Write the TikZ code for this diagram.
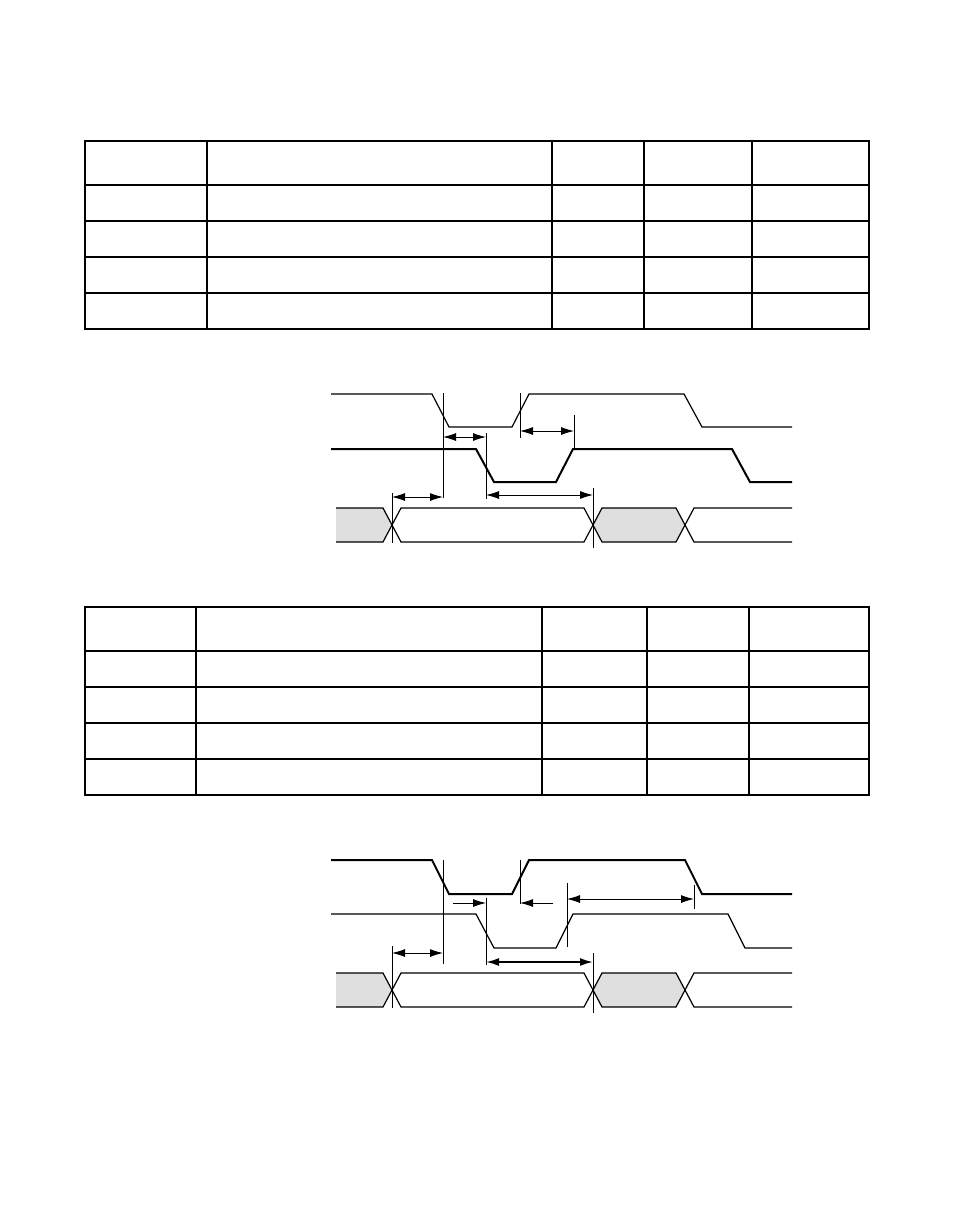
\documentclass[tikz,border=0pt]{standalone}
\usetikzlibrary{arrows.meta}
\tikzset{
  frame/.style={line width=2.3pt},
  rowline/.style={line width=1.3pt},
  sig/.style={line width=1.2pt, line join=miter},
  sigbold/.style={line width=2pt, line join=miter},
  bus/.style={line width=1.2pt},
  busfill/.style={fill=gray!25},
  vmark/.style={line width=0.8pt},
  dim/.style={line width=0.9pt, {Latex[length=13pt,width=8pt]}-{Latex[length=13pt,width=8pt]}},
  dimbold/.style={dim, line width=1.8pt},
  dimr/.style={line width=0.9pt, -{Latex[length=13pt,width=8pt]}}
}
\newcommand{\vmarker}[4]{% name, x, y top, y bottom
  \coordinate (#1) at (#2,#3);
  \draw[vmark] (#1) -- (#2,#4);}
\begin{document}
\begin{tikzpicture}[x=1pt, y=-1pt]
  \useasboundingbox (0,0) rectangle (954,1227);

  % table 1
  \draw[frame] (85,141) rectangle (869,329);
  \draw[frame] (85,185) -- (869,185);
  \foreach \y in {221,257,293} \draw[rowline] (85,\y) -- (869,\y);
  \foreach \x in {207,552,644,752} \draw[rowline] (\x,141) -- (\x,329);

  % table 2
  \draw[frame] (85,607) rectangle (869,795);
  \draw[frame] (85,651) -- (869,651);
  \foreach \y in {687,723,759} \draw[rowline] (85,\y) -- (869,\y);
  \foreach \x in {196,542,647,749} \draw[rowline] (\x,607) -- (\x,795);

  % timing diagram 1
  \begin{scope}
    \draw[sig] (331,394) -- (432,394) -- (449,427) -- (512,427) -- (529,394)
      -- (684,394) -- (702,427) -- (792,427);
    \draw[sigbold] (331,449) -- (476,449) -- (494,482) -- (556,482) -- (573,449)
      -- (732,449) -- (750,482) -- (792,482);
    % bus
    \fill[busfill] (336,508) -- (383,508) -- (392,525) -- (383,542) -- (336,542) -- cycle;
    \fill[busfill] (593,525) -- (602,508) -- (676,508) -- (685,525) -- (676,542) -- (602,542) -- cycle;
    \draw[bus] (336,508) -- (383,508) -- (401,542) -- (584,542) -- (602,508)
      -- (676,508) -- (694,542) -- (792,542);
    \draw[bus] (336,542) -- (383,542) -- (401,508) -- (584,508) -- (602,542)
      -- (676,542) -- (694,508) -- (792,508);
    \vmarker{a1}{443}{393}{498}
    \vmarker{a2}{520}{393}{438}
    \vmarker{a3}{486}{433}{499}
    \vmarker{a4}{574}{415}{449}
    \vmarker{a5}{392}{493}{543}
    \vmarker{a6}{593}{488}{548}
    \draw[dim] (a1 |- 0,437) -- (a3 |- 0,437);
    \draw[dim] (a2 |- 0,431) -- (a4 |- 0,431);
    \draw[dim] (a5 |- 0,497) -- (a1 |- 0,497);
    \draw[dim] (a3 |- 0,495) -- (a6 |- 0,495);
  \end{scope}

  % timing diagram 2
  \begin{scope}[shift={(0,466)}]
    \draw[sigbold] (331,394) -- (432,394) -- (449,428) -- (512,428) -- (529,394)
      -- (685,394) -- (702,428) -- (792,428);
    \draw[sig] (331,448) -- (476,448) -- (494,482) -- (556,482) -- (573,448)
      -- (728,448) -- (745,482) -- (792,482);
    % bus
    \fill[busfill] (336,507) -- (383,507) -- (392,524) -- (383,541) -- (336,541) -- cycle;
    \fill[busfill] (593,524) -- (602,507) -- (676,507) -- (685,524) -- (676,541) -- (602,541) -- cycle;
    \draw[bus] (336,507) -- (383,507) -- (401,541) -- (584,541) -- (602,507)
      -- (676,507) -- (694,541) -- (792,541);
    \draw[bus] (336,541) -- (383,541) -- (401,507) -- (584,507) -- (602,541)
      -- (676,541) -- (694,507) -- (792,507);
    \vmarker{b1}{443}{394}{498}
    \vmarker{b2}{520}{394}{438}
    \vmarker{b3}{486}{432}{499}
    \vmarker{b4}{567}{417}{481}
    \vmarker{b7}{694}{419}{443}
    \vmarker{b5}{392}{480}{542}
    \vmarker{b6}{593}{487}{547}
    \coordinate (s1) at (453,437);
    \coordinate (s2) at (553,437);
    \draw[dimr] (s1) -- (b3 |- s1);
    \draw[dimr] (s2) -- (b2 |- s2);
    \draw[dim] (b4 |- 0,433) -- (b7 |- 0,433);
    \draw[dim] (b5 |- 0,487) -- (b1 |- 0,487);
    \draw[dimbold] (b3 |- 0,496) -- (b6 |- 0,496);
  \end{scope}
\end{tikzpicture}
\end{document}
